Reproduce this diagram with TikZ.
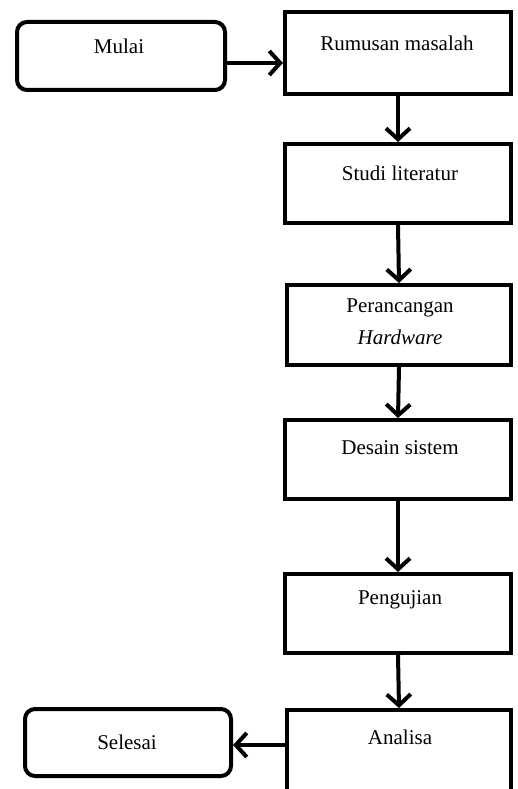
\documentclass[tikz,border=0pt]{standalone}
\usepackage{fontspec}
\setmainfont{Liberation Serif}
\usetikzlibrary{arrows.meta}
\begin{document}
\begin{tikzpicture}[x=1pt,y=-1pt,
  box/.style={draw=black,line width=4pt,minimum width=226pt,inner sep=0pt},
  term/.style={draw=black,line width=4pt,rounded corners=10pt,inner sep=0pt},
  txt/.style={font=\fontsize{21}{25}\selectfont,inner sep=0pt,anchor=center},
  arr/.style={line width=4pt,-{Straight Barb[length=11pt,width=24pt,line width=4pt]}}]
\useasboundingbox (0,0) rectangle (518,789);
% terminals
\node[term,minimum width=208pt,minimum height=68pt] (mul) at (121,56) {};
\node[txt] (mult) at (119,46) {Mulai};
\node[term,minimum width=206pt,minimum height=67pt] (sel) at (128,742.5) {};
\node[txt] (selt) at (127,742) {Selesai};
% process boxes
\node[box,minimum height=82pt] (rum) at (398,53) {};
\node[txt] (rumt) at (397,43) {Rumusan masalah};
\node[box,minimum height=79pt] (stu) at (398,183.5) {};
\node[txt] (stut) at (400,173) {Studi literatur};
\node[box,minimum height=80pt,minimum width=224pt] (per) at (399,325) {};
\node[txt] (pert1) at (400,308) {Perancangan};
\node[txt] (pert2) at (400,337) {\itshape Hardware};
\node[box,minimum height=79pt] (des) at (398,459.5) {};
\node[txt] (dest) at (400,448) {Desain sistem};
\node[box,minimum height=79pt] (pen) at (398,613.5) {};
\node[txt] (pent) at (400,600) {Pengujian};
\node[box,minimum height=84pt,minimum width=224pt] (ana) at (399,752) {};
\node[txt] (anat) at (400,737) {Analisa};
% connectors
\coordinate (ya) at (0,63);
\coordinate (yb) at (0,745);
\draw[arr] (mul.east |- ya) -- (rum.west |- ya);
\draw[arr] (rum.south) -- (stu.north);
\draw[arr] (stu.south) -- (per.north);
\draw[arr] (per.south) -- (des.north);
\draw[arr] (des.south) -- (pen.north);
\draw[arr] (pen.south) -- (ana.north);
\draw[arr] (ana.west |- yb) -- (sel.east |- yb);
\end{tikzpicture}
\end{document}
